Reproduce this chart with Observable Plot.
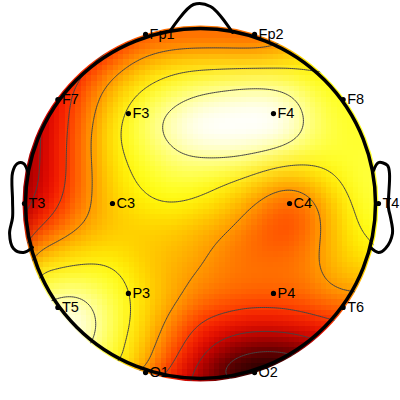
<!DOCTYPE html>
<html><head><meta charset="utf-8">
<style>html,body{margin:0;padding:0;background:#fff}svg{display:block}</style>
<script src="https://cdn.jsdelivr.net/npm/d3@7"></script>
<script src="https://cdn.jsdelivr.net/npm/@observablehq/plot@0.6"></script>
</head><body><div id="chart"></div>
<script>
const gridX=[-1.05,-.91875,-.7875,-.65625,-.525,-.39375,-.2625,-.13125,0,.13125,.2625,.39375,.525,.65625,.7875,.91875,1.05];
const gridY=[1.05,.91875,.7875,.65625,.525,.39375,.2625,.13125,0,-.13125,-.2625,-.39375,-.525,-.65625,-.7875,-.91875,-1.05];
const potential=[
[.2,.2,.25,.3,.35,.4,.42,.42,.42,.42,.42,.43,.5,.6,.7,.8,.8],
[.2,.22,.28,.33,.4,.5,.54,.55,.55,.55,.54,.55,.62,.7,.75,.8,.8],
[.2,.25,.33,.43,.53,.62,.68,.72,.73,.73,.73,.73,.73,.72,.74,.8,.8],
[.25,.3,.4,.52,.64,.72,.79,.83,.87,.89,.91,.92,.9,.81,.76,.78,.8],
[.2,.28,.41,.55,.68,.79,.88,.95,1,1.03,1.05,1.05,.96,.85,.79,.78,.8],
[.18,.29,.42,.57,.72,.8,.89,.97,1.02,1.05,1.05,1.05,.96,.85,.8,.79,.8],
[.18,.29,.43,.57,.7,.77,.82,.88,.9,.91,.89,.84,.79,.78,.8,.8,.8],
[.18,.3,.42,.57,.68,.75,.79,.81,.8,.76,.72,.65,.62,.68,.74,.82,.82],
[.2,.33,.46,.58,.67,.71,.75,.76,.73,.69,.62,.55,.5,.57,.7,.79,.82],
[.3,.45,.53,.62,.66,.68,.68,.67,.64,.62,.56,.49,.46,.56,.68,.77,.8],
[.5,.6,.66,.69,.7,.68,.67,.65,.62,.57,.53,.52,.52,.58,.68,.72,.75],
[.72,.77,.77,.79,.79,.72,.66,.62,.6,.56,.55,.55,.55,.58,.66,.67,.68],
[.8,.85,.92,.9,.83,.745,.68,.63,.56,.54,.52,.52,.52,.55,.6,.6,.6],
[.9,.95,1.02,.97,.86,.75,.65,.56,.46,.43,.4,.4,.42,.44,.46,.48,.48],
[.9,.95,1,.95,.83,.72,.62,.5,.36,.27,.23,.22,.24,.29,.38,.42,.42],
[.9,.9,.9,.85,.8,.7,.57,.42,.28,.13,.06,.02,.06,.12,.25,.35,.35],
[.85,.85,.85,.82,.78,.66,.5,.33,.18,.03,0,0,0,.08,.2,.3,.3]
];
const levels=[.15,.3,.45,.6,.75,.9];
const electrodeNames=["Fp1","Fp2","F7","F3","F4","F8","T3","C3","C4","T4","T5","P3","P4","T6","O1","O2"];
const electrodeX=[-.314,.309,-.815,-.412,.417,.815,-1.006,-.503,.509,1.017,-.815,-.412,.417,.815,-.314,.309];
const electrodeY=[.966,.966,.594,.514,.514,.594,0,0,0,0,-.594,-.514,-.514,-.594,-.966,-.966];
const nose=[[-.171,.989],[-.04,1.137],[.057,1.126],[.183,.977]];
const leftEar=[[-.983,.171],[-1.011,.229],[-1.046,.229],[-1.074,.177],[-1.074,.017],[-1.074,-.08],[-1.091,-.171],[-1.069,-.257],[-1.011,-.28],[-.96,-.251]];
const rightEar=[[.989,.189],[1.017,.234],[1.069,.217],[1.08,.171],[1.074,-.023],[1.086,-.08],[1.097,-.171],[1.057,-.257],[1.017,-.28],[.971,-.251]];

const cells=potential.flatMap((row,j)=>row.map((v,i)=>({x:gridX[i],y:gridY[j],v})));
const electrodes=electrodeNames.map((name,i)=>({name,x:electrodeX[i],y:electrodeY[i]}));
const center=[{x:0,y:0}];
const outline={curve:"catmull-rom",stroke:"black",strokeWidth:3,x:d=>d[0],y:d=>d[1]};

const chart=Plot.plot({
  width:400,height:400,margin:0,
  x:{domain:[-200/175,200/175],range:[0,400],axis:null},
  y:{domain:[-197/175,203/175],range:[400,0],axis:null},
  color:{type:"linear",domain:[0,.375,.75,1],range:["#000","#f00","#ff0","#fff"],clamp:true},
  style:{background:"white",overflow:"hidden"},
  marks:[
    Plot.raster(cells,{x:"x",y:"y",fill:"v",interpolate:"barycentric",pixelSize:5.33,blur:2,imageRendering:"pixelated"}),
    Plot.contour(cells,{x:"x",y:"y",value:"v",interpolate:"barycentric",pixelSize:2,blur:6,thresholds:levels,stroke:"#444",strokeWidth:1,fill:"none"}),
    Plot.dot(center,{x:"x",y:"y",r:478,stroke:"white",strokeWidth:600,fill:"none"}),
    Plot.line(nose,outline),
    Plot.line(leftEar,outline),
    Plot.line(rightEar,outline),
    Plot.dot(center,{x:"x",y:"y",r:175,stroke:"black",strokeWidth:3.5,fill:"none"}),
    Plot.dot(electrodes,{x:"x",y:"y",r:2.6,fill:"black"}),
    Plot.text(electrodes,{x:"x",y:"y",text:"name",dx:4,textAnchor:"start",fontSize:14.5,fontFamily:"Liberation Sans",fill:"black"})
  ]
});
document.getElementById("chart").append(chart);
</script></body></html>
